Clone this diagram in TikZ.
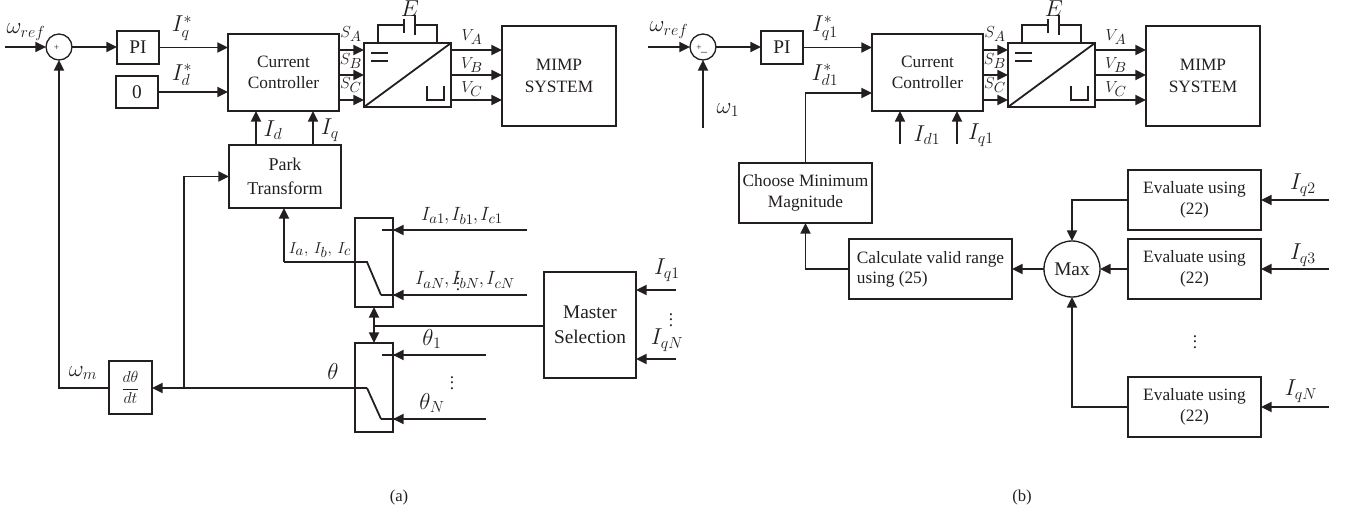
\documentclass[tikz,border=0pt]{standalone}
\usepackage{fontspec}
\setmainfont{Liberation Serif}
\usetikzlibrary{arrows.meta}
\DeclareMathSizes{16}{16}{12.5}{10}
\DeclareMathSizes{15}{15}{11}{9}
\DeclareMathSizes{13}{13}{10.5}{8}
\definecolor{ink}{HTML}{231F20}
\tikzset{
  x=0.75pt,y=-0.75pt,
  wire/.style={draw=ink,line width=1.35pt},
  arr/.style={wire,-{Triangle[length=8pt,width=7.5pt]}},
  dbl/.style={wire,{Triangle[length=8pt,width=7.5pt]}-{Triangle[length=8pt,width=7.5pt]}},
  box/.style={draw=ink,line width=1pt,align=center,inner sep=0pt,outer sep=0pt,text=ink,font=\fontsize{13}{16}\selectfont},
  circ/.style={draw=ink,line width=1pt,circle,inner sep=0pt,outer sep=0pt,text=ink},
  lab/.style={inner sep=0pt,text=ink,font=\fontsize{16}{18}\selectfont},
  mlab/.style={inner sep=0pt,text=ink,font=\fontsize{15}{18}\selectfont},
  slab/.style={inner sep=0pt,text=ink,font=\fontsize{13}{15}\selectfont},
  caplab/.style={inner sep=0pt,text=ink,font=\fontsize{12.5}{15}\selectfont},
}
\newcommand{\bx}[7][]{\node[box,#1,minimum width={(#5-#3)*0.75pt},minimum height={(#6-#4)*0.75pt}] (#2) at ({(#3+#5)/2},{(#4+#6)/2}) {#7};}
\newcommand{\TopGroup}[1]{%
  \bx{cc#1}{228}{34}{339}{111}{Current\\Controller}
  \bx{conv#1}{364}{43}{451}{107}{}
  \bx[font=\fontsize{13}{16.5}\selectfont]{mimp#1}{502}{26}{616}{126}{MIMP\\SYSTEM}
  \draw[wire] (conv#1.south west) -- (conv#1.north east);
  \draw[wire,line width=1.1pt] (371,53) -- (388,53) (371,61) -- (388,61);
  \draw[wire,line width=1.1pt] (427,86) -- (427,100) -- (444,100) -- (444,86);
  \foreach \yy in {50,75,100} {
    \draw[arr] (cc#1.east |- 0,\yy) -- (conv#1.west |- 0,\yy);
    \draw[arr] (conv#1.east |- 0,\yy) -- (mimp#1.west |- 0,\yy);
  }
  \draw[wire] (378,43) -- (378,25) -- (404,25) (404,19) -- (404,33) (415,15) -- (415,35) (415,25) -- (437,25) -- (437,43);
  \node[lab] (e#1) at (410,9) {$E$};
  \node[slab] (sa#1) at (351,34) {$S_A$};
  \node[slab] (sb#1) at (351,61) {$S_B$};
  \node[slab] (sc#1) at (351,85) {$S_C$};
  \node[slab] (va#1) at (472,37) {$V_A$};
  \node[slab] (vb#1) at (472,65) {$V_B$};
  \node[slab] (vc#1) at (472,89) {$V_C$};
}
\begin{document}
\begin{tikzpicture}
\path[use as bounding box] (0,0) rectangle (1350,516);
% ---------- (a) ----------
\TopGroup{a}
\node[circ,minimum size=19.5pt] (sum) at (59,47) {};
\node[inner sep=0pt,text=ink,font=\fontsize{7}{8}\selectfont] (sump) at (56.5,48) {+};
\bx[font=\fontsize{14.5}{17}\selectfont]{pi}{117}{31}{159}{64}{PI}
\bx[font=\fontsize{14.5}{17}\selectfont]{zero}{116}{76}{158}{108}{0}
\bx[font=\fontsize{13.5}{18}\selectfont]{park}{229}{145}{341}{208}{Park\\Transform}
\bx{swa}{355}{218}{393}{307}{}
\bx{swb}{355}{343}{393}{432}{}
\bx[font=\fontsize{14.5}{19}\selectfont]{master}{544}{272}{636}{378}{Master\\Selection}
\bx[font=\fontsize{13}{15}\selectfont]{ddt}{109}{361}{152}{414}{$\displaystyle\frac{d\theta}{dt}$}

\coordinate (wrefin) at (5,47);
\coordinate (ia1) at (527,230);
\coordinate (ian) at (527,295);
\coordinate (t1) at (486,355);
\coordinate (tn) at (486,419);
\coordinate (iq1) at (676,290);
\coordinate (iqn) at (676,359);
\coordinate (sa1) at (382,230);
\coordinate (sa2) at (381,295);
\coordinate (sa3) at (367,262);
\coordinate (sb1) at (382,355);
\coordinate (sb2) at (381,419);
\coordinate (sb3) at (367,388);
\coordinate (xp) at (284,262);
\coordinate (br) at (184,388);
\coordinate (bus) at (374,326);

\draw[arr] (wrefin) -- (sum.west);
\draw[arr] (sum.east) -- (pi.west |- sum.east);
\draw[arr] (pi.east) -- (cca.west |- pi.east);
\draw[arr] (zero.east) -- (cca.west |- zero.east);
\draw[arr] (park.north -| 256,0) -- (cca.south -| 256,0);
\draw[arr] (park.north -| 313,0) -- (cca.south -| 313,0);
\draw[wire] (ia1) -- (sa1);
\draw[arr] (ia1) -- (swa.east |- ia1);
\draw[wire] (ian) -- (sa2);
\draw[arr] (ian) -- (swa.east |- ian);
\draw[wire] (sa2) -- (sa3) -- (xp);
\draw[arr] (xp) -- (xp |- park.south);
\draw[wire] (t1) -- (sb1);
\draw[arr] (t1) -- (swb.east |- t1);
\draw[wire] (tn) -- (sb2);
\draw[arr] (tn) -- (swb.east |- tn);
\draw[wire] (sb2) -- (sb3);
\draw[arr] (sb3) -- (ddt.east |- sb3);
\draw[arr] (br) |- (park.west);
\draw[arr] (ddt.west |- br) -| (sum.south);
\draw[dbl] (swa.south -| bus) -- (swb.north -| bus);
\draw[wire] (bus) -- (master.west |- bus);
\draw[arr] (iq1) -- (master.east |- iq1);
\draw[arr] (iqn) -- (master.east |- iqn);

\node[lab] (l1) at (26,32) {$\omega_{ref}$};
\node[lab] (l2) at (182,28) {$I_q^*$};
\node[lab] (l3) at (182,75) {$I_d^*$};
\node[lab] (l4) at (273,130) {$I_d$};
\node[lab] (l5) at (330,130) {$I_q$};
\node[inner sep=0pt,text=ink,font=\fontsize{13}{15}\selectfont] (l6) at (320,250) {$I_a,\, I_b,\, I_c$};
\node[mlab] (l7) at (462,216) {$I_{a1}\mkern-1mu,\mkern-1mu I_{b1}\mkern-1mu,\mkern-1mu I_{c1}$};
\node[mlab] (l8) at (465,280) {$I_{aN}\mkern-1mu,\mkern-1mu I_{bN}\mkern-1mu,\mkern-1mu I_{cN}$};
\node[slab] (l8d) at (458,280) {$\vdots$};
\node[lab] (l9) at (667,270) {$I_{q1}$};
\node[slab] (l10) at (671,316) {$\vdots$};
\node[lab] (l11) at (667,340) {$I_{qN}$};
\node[lab] (l12) at (333,372) {$\theta$};
\node[lab] (l13) at (432,339) {$\theta_1$};
\node[slab] (l14) at (452,379) {$\vdots$};
\node[lab] (l15) at (432,403) {$\theta_N$};
\node[lab] (l16) at (83,373) {$\omega_m$};
\node[caplab] (capa) at (399,497) {(a)};

% ---------- (b) ----------
\begin{scope}[shift={(644,0)}]
\TopGroup{b}
\end{scope}
\node[circ,minimum size=19.5pt] (sumb) at (703,47) {};
\node[inner sep=0pt,text=ink,font=\fontsize{7}{8}\selectfont] (sumbp) at (699,48) {+};
\node[inner sep=0pt,text=ink,font=\fontsize{9}{9}\selectfont] (sumbm) at (704,53.5) {--};
\bx[font=\fontsize{14.5}{17}\selectfont]{pib}{761}{31}{803}{64}{PI}
\bx{choose}{739}{163}{872}{223}{Choose Minimum\\Magnitude}
\bx[align=left,font=\fontsize{13}{15}\selectfont]{calc}{849}{239}{1012}{299}{Calculate valid range\\using (25)}
\node[circ,minimum size=42pt,font=\fontsize{14.5}{17}\selectfont] (max) at (1072,269) {Max};
\bx{eva}{1128}{170}{1261}{230}{Evaluate using\\(22)}
\bx{evb}{1128}{239}{1261}{299}{Evaluate using\\(22)}
\bx{evc}{1128}{377}{1261}{437}{Evaluate using\\(22)}

\coordinate (wrefb) at (648,47);
\coordinate (w1) at (703,128);
\coordinate (id1) at (900,144);
\coordinate (iq1b) at (957,144);
\coordinate (q2) at (1329,200);
\coordinate (q3) at (1329,269);
\coordinate (qn) at (1329,407);

\draw[arr] (wrefb) -- (sumb.west);
\draw[arr] (w1) -- (sumb.south);
\draw[arr] (sumb.east) -- (pib.west |- sumb.east);
\draw[arr] (pib.east) -- (ccb.west |- pib.east);
\draw[arr] (choose.north) |- (ccb.west |- 0,93);
\draw[arr] (id1) -- (id1 |- ccb.south);
\draw[arr] (iq1b) -- (iq1b |- ccb.south);
\draw[arr] (calc.west) -| (choose.south);
\draw[arr] (max.west) -- (calc.east |- max.west);
\draw[arr] (eva.west) -| (max.north);
\draw[arr] (evb.west) -- (max.east);
\draw[arr] (evc.west) -| (max.south);
\draw[arr] (q2) -- (eva.east);
\draw[arr] (q3) -- (evb.east);
\draw[arr] (qn) -- (evc.east);

\node[lab] (r1) at (669,30) {$\omega_{ref}$};
\node[lab] (r2) at (728,110) {$\omega_1$};
\node[lab] (r3) at (825,28) {$I_{q1}^*$};
\node[lab] (r4) at (825,75) {$I_{d1}^*$};
\node[lab] (r5) at (927,135) {$I_{d1}$};
\node[lab] (r6) at (981,135) {$I_{q1}$};
\node[lab] (r7) at (1303,185) {$I_{q2}$};
\node[lab] (r8) at (1303,255) {$I_{q3}$};
\node[lab] (r9) at (1301,391) {$I_{qN}$};
\node[slab] (r10) at (1195,338) {$\vdots$};
\node[caplab] (capb) at (1022,497) {(b)};
\end{tikzpicture}
\end{document}
